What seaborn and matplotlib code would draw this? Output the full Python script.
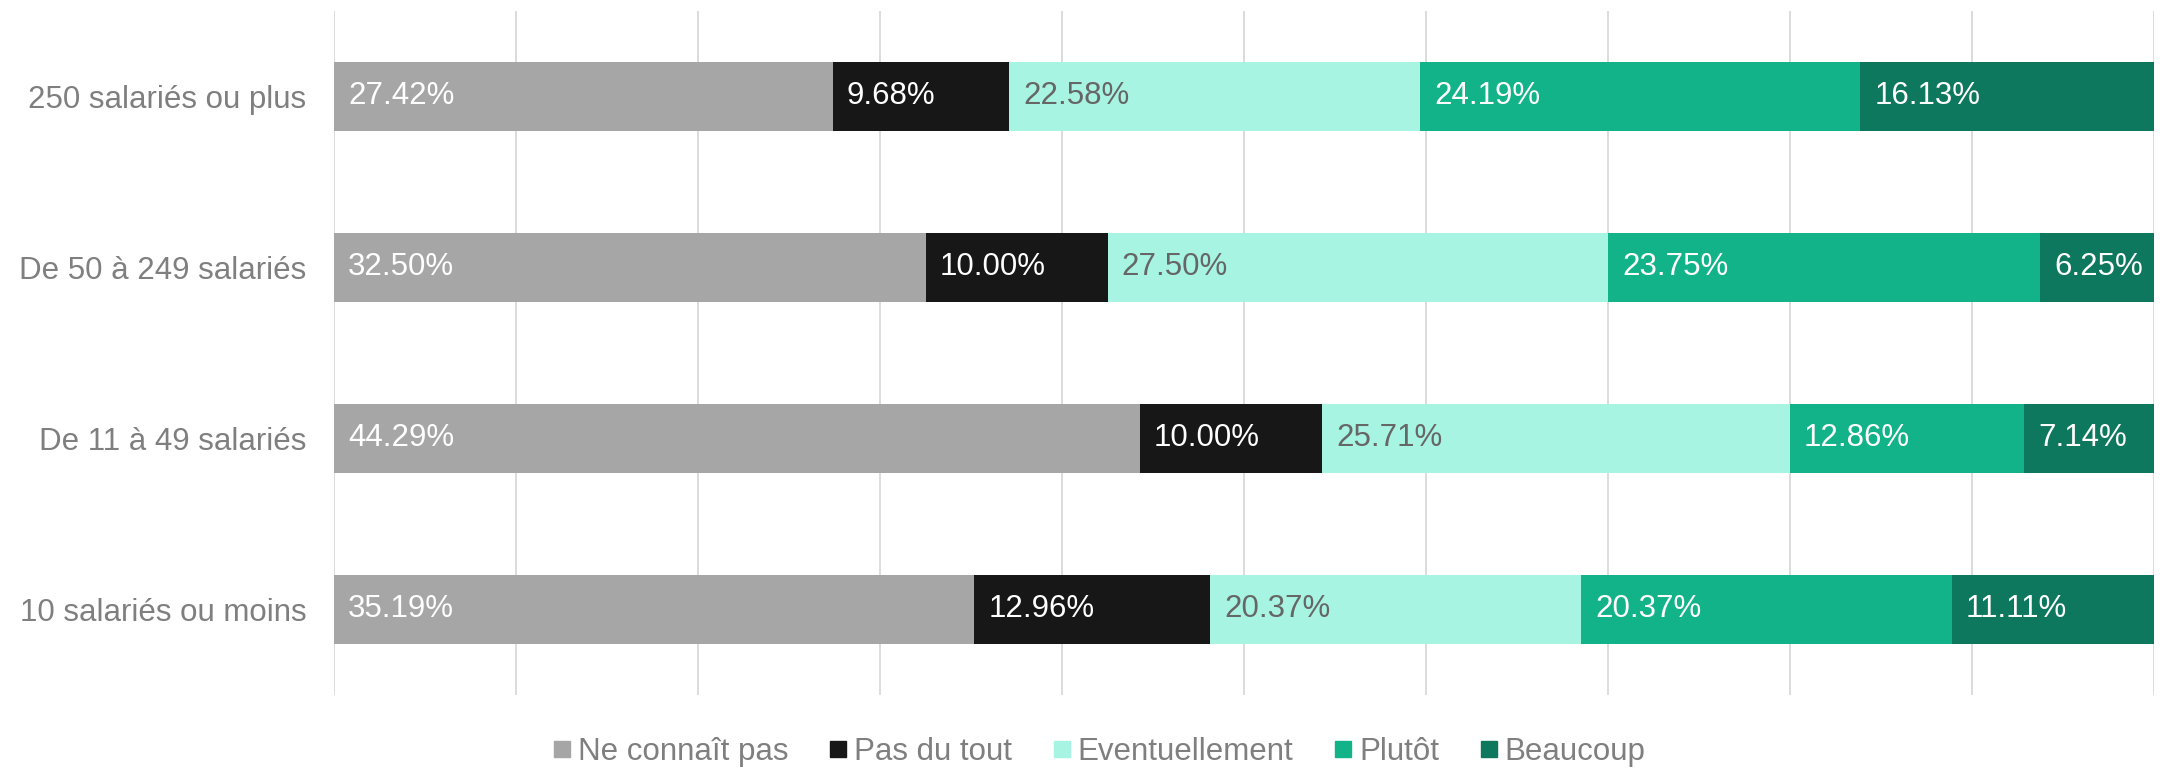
import matplotlib
matplotlib.use('agg')
import matplotlib.pyplot as plt
import matplotlib.lines as mlines
import numpy as np
import pandas as pd
import seaborn as sns

# data
categories = ['250 salariés ou plus', 'De 50 à 249 salariés',
              'De 11 à 49 salariés', '10 salariés ou moins']
responses = ['Ne connaît pas', 'Pas du tout', 'Eventuellement', 'Plutôt', 'Beaucoup']
ne_connait_pas = [27.42, 32.50, 44.29, 35.19]
pas_du_tout = [9.68, 10.00, 10.00, 12.96]
eventuellement = [22.58, 27.50, 25.71, 20.37]
plutot = [24.19, 23.75, 12.86, 20.37]
beaucoup = [16.13, 6.25, 7.14, 11.11]

colors = ['#A6A6A6', '#171717', '#A7F4E2', '#13B38A', '#0E785E']
label_colors = ['white', 'white', '#666666', 'white', 'white']

sns.set_style('white')
plt.rcParams['font.family'] = ['Liberation Sans', 'DejaVu Sans']

values = np.array([ne_connait_pas, pas_du_tout, eventuellement, plutot, beaucoup])
cum = values.cumsum(axis=0)

fig = plt.figure(figsize=(21.65, 7.78), dpi=100)
ax = fig.add_axes([0.1543, 0.1067, 0.8406, 0.8792])

# stacked bars: draw cumulative totals from the right-most segment down
for i in reversed(range(len(responses))):
    df = pd.DataFrame({'cat': categories, 'val': cum[i]})
    sns.barplot(data=df, x='val', y='cat', order=categories, color=colors[i],
                saturation=1, width=0.4, orient='h', ax=ax, zorder=2,
                linewidth=0)

# segment labels
for i in range(len(responses)):
    for j, cat in enumerate(categories):
        left = cum[i][j] - values[i][j]
        ax.annotate(f'{values[i][j]:.2f}%', xy=(left, j), xytext=(10, 0),
                    textcoords='offset points', va='center', ha='left',
                    fontsize=22.5, color=label_colors[i], zorder=3)

ax.set_xlim(0, 100)
ax.set_ylim(3.5, -0.5)
ax.set_xticks(np.arange(0, 101, 10))
ax.set_xticklabels([])
ax.grid(axis='x', color='#D9D9D9', linewidth=1.3, zorder=0)
ax.set_axisbelow(True)
ax.tick_params(axis='x', length=0)
ax.tick_params(axis='y', length=0, pad=20, labelsize=22.5, labelcolor='#7F7F7F')
ax.set_xlabel('')
ax.set_ylabel('')
for s in ax.spines.values():
    s.set_visible(False)

handles = [mlines.Line2D([], [], marker='s', linestyle='none', markersize=11,
                         markerfacecolor=c, markeredgecolor=c) for c in colors]
leg = fig.legend(handles, responses, loc='center', bbox_to_anchor=(0.507, 0.034),
                 ncol=5, frameon=False, fontsize=22.5, handletextpad=0.1,
                 columnspacing=1.2, handlelength=0.8)
for t in leg.get_texts():
    t.set_color('#7F7F7F')

fig.savefig('out.png', dpi=100)
